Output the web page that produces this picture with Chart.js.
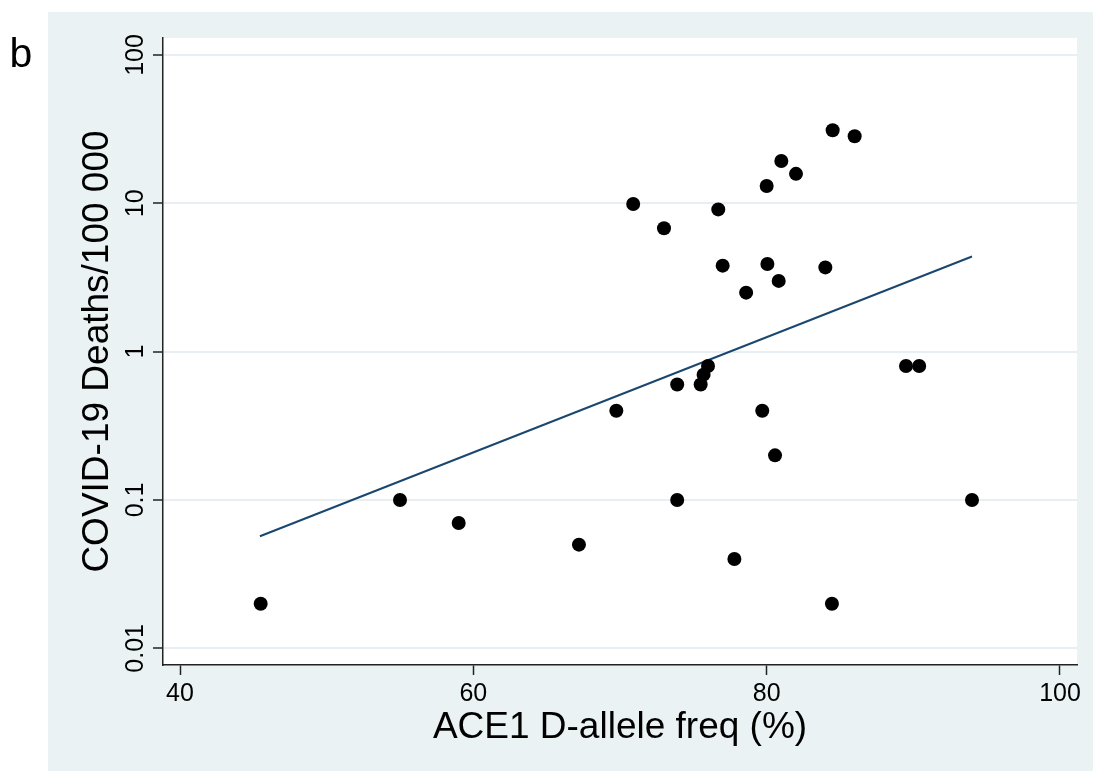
<!DOCTYPE html>
<html>
<head>
<meta charset="utf-8">
<script src="https://cdn.jsdelivr.net/npm/chart.js@4.4.1/dist/chart.umd.min.js"></script>
<style>
  html, body { margin: 0; padding: 0; background: #ffffff; }
  #wrap { width: 1093px; height: 771px; }
</style>
</head>
<body>
<div id="wrap"><canvas id="c" width="1093" height="771"></canvas></div>
<script>
// ACE1 D-allele frequency (%)
const alleleFreq = [45.5, 55.0, 59.0, 67.2, 69.75, 70.9, 73.0, 73.9, 73.9, 76.7,
                    75.5, 75.7, 76.0, 77.0, 77.8, 78.6, 79.7, 80.05, 80.0, 80.57,
                    80.82, 81.0, 82.0, 84.0, 84.5, 84.45, 86.0, 89.5, 90.4, 94.0];
// COVID-19 deaths per 100 000
const deaths = [0.02, 0.1, 0.07, 0.05, 0.4, 9.9, 6.8, 0.6, 0.1, 9.1,
                0.6, 0.7, 0.8, 3.8, 0.04, 2.5, 0.4, 3.9, 13.1, 0.2,
                3.0, 19.3, 15.8, 3.7, 31.1, 0.02, 28.3, 0.8, 0.8, 0.1];
// fitted line end points
const fitX = [45.45, 94.0];
const fitY = [0.057, 4.38];
// ticks
const xTicks = [40, 60, 80, 100];
const xTickLabels = ['40', '60', '80', '100'];
const yTicks = [0.01, 0.1, 1, 10, 100];
const yTickLabels = ['0.01', '0.1', '1', '10', '100'];
const xTitle = 'ACE1 D-allele freq (%)';
const yTitle = 'COVID-19 Deaths/100 000';
const panelLabel = 'b';

const FONT = "'Liberation Sans', Arial, Helvetica, sans-serif";
Chart.defaults.font.family = FONT;
Chart.defaults.color = '#000000';

const scatterData = alleleFreq.map((x, i) => ({ x: x, y: deaths[i] }));
const fitData = fitX.map((x, i) => ({ x: x, y: fitY[i] }));

const bgPlugin = {
  id: 'bg',
  beforeDraw(chart) {
    const ctx = chart.ctx;
    const a = chart.chartArea;
    ctx.save();
    ctx.fillStyle = '#ffffff';
    ctx.fillRect(0, 0, chart.width, chart.height);
    ctx.fillStyle = '#eaf2f3';
    ctx.fillRect(48, 12, chart.width - 48, chart.height - 12);
    ctx.fillStyle = '#ffffff';
    ctx.fillRect(a.left, a.top, a.right - a.left, a.bottom - a.top);
    ctx.restore();
  },
  afterDraw(chart) {
    const ctx = chart.ctx;
    ctx.save();
    ctx.fillStyle = '#000000';
    ctx.font = '41px ' + FONT;
    ctx.textBaseline = 'alphabetic';
    ctx.textAlign = 'left';
    ctx.fillText(panelLabel, 9.5, 67);
    ctx.restore();
  }
};

new Chart(document.getElementById('c'), {
  type: 'scatter',
  data: {
    datasets: [
      {
        type: 'scatter',
        data: scatterData,
        backgroundColor: '#000000',
        borderWidth: 0,
        pointRadius: 7,
        pointHoverRadius: 7,
        order: 0
      },
      {
        type: 'line',
        data: fitData,
        borderColor: '#1a476f',
        borderWidth: 2,
        pointRadius: 0,
        fill: false,
        tension: 0,
        order: 1
      }
    ]
  },
  options: {
    responsive: false,
    animation: false,
    events: [],
    layout: { padding: { left: 0, top: 38, right: 16, bottom: 0 } },
    plugins: { legend: { display: false }, tooltip: { enabled: false } },
    scales: {
      x: {
        type: 'linear',
        position: 'bottom',
        min: 38.84,
        max: 101.16,
        afterBuildTicks(scale) { scale.ticks = xTicks.map(v => ({ value: v })); },
        afterFit(scale) { scale.height = 106; },
        ticks: {
          autoSkip: false,
          maxRotation: 0,
          minRotation: 0,
          padding: 4,
          font: { size: 25 },
          color: '#000000',
          callback: (v, i) => xTickLabels[i]
        },
        grid: {
          display: true,
          drawOnChartArea: false,
          drawTicks: true,
          tickLength: 10,
          tickColor: '#222222',
          tickWidth: 1.5
        },
        border: { display: true, color: '#222222', width: 1.5 },
        title: {
          display: true,
          text: xTitle,
          color: '#000000',
          font: { size: 37 },
          padding: { top: 0, bottom: 21 }
        }
      },
      y: {
        type: 'logarithmic',
        position: 'left',
        min: 0.00772,
        max: 130.2,
        afterBuildTicks(scale) { scale.ticks = yTicks.map(v => ({ value: v, major: true })); },
        afterFit(scale) { scale.width = 163; },
        ticks: {
          autoSkip: false,
          minRotation: 90,
          maxRotation: 90,
          crossAlign: 'center',
          padding: -7,
          font: { size: 25 },
          color: '#000000',
          callback: (v, i) => yTickLabels[i]
        },
        grid: {
          display: true,
          drawOnChartArea: true,
          color: '#e8eff2',
          lineWidth: 2,
          drawTicks: true,
          tickLength: 10,
          tickColor: '#222222',
          tickWidth: 1.5
        },
        border: { display: true, color: '#222222', width: 1.5 },
        title: {
          display: true,
          text: yTitle,
          color: '#000000',
          font: { size: 37 },
          padding: { top: 76, bottom: 0 }
        }
      }
    }
  },
  plugins: [bgPlugin]
});
</script>
</body>
</html>
